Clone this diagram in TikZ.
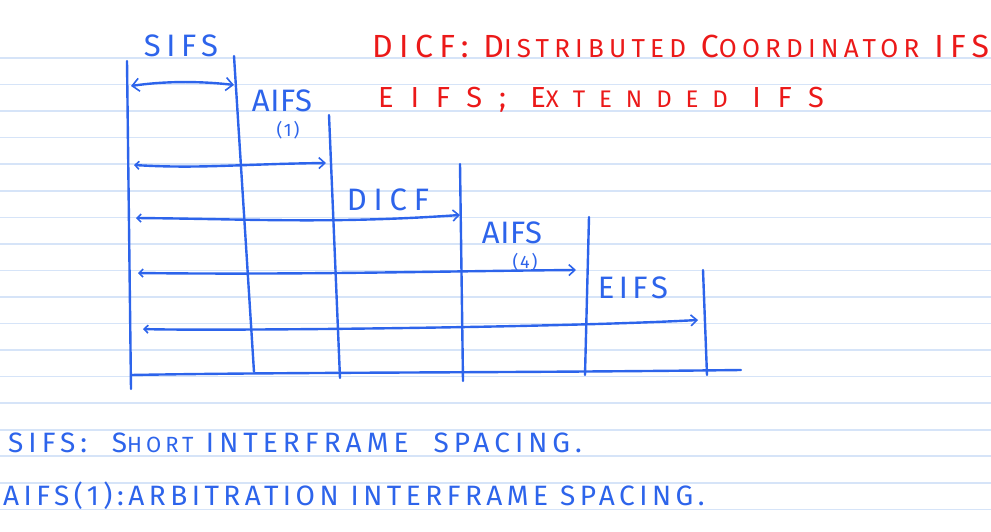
\documentclass[tikz,border=0pt]{standalone}
\usepackage{fontspec}
\newfontfamily\handfont{Fira Sans}
\usetikzlibrary{arrows.meta}
\definecolor{ink}{RGB}{45,100,235}
\definecolor{redink}{RGB}{235,25,25}
\definecolor{ruled}{RGB}{214,228,248}
\def\lowsz{20}
\newcommand\lowcap[1]{{\fontsize{\lowsz}{\lowsz}\selectfont #1}}
\newcommand\handsize[3]{\def\lowsz{#2}\handfont\addfontfeatures{LetterSpace=#3}\fontsize{#1}{#1}\selectfont}
\tikzset{
  ruleline/.style={ruled, line width=1.6pt},
  penline/.style={ink, line width=2.4pt, line cap=round},
  bothtip/.style={{Straight Barb[length=7pt,width=13pt,line width=1.6pt]}-{Straight Barb[length=7pt,width=13pt,line width=1.6pt]}},
  marktip/.style={{Straight Barb[length=4pt,width=8pt,line width=1.6pt]}-{Straight Barb[length=6pt,width=11pt,line width=1.6pt]}},
  label/.style={font=\handsize{31}{22}{18}, text=ink, inner sep=0pt},
  sublabel/.style={font=\handsize{18}{14}{10}, text=ink, inner sep=0pt},
  redtext/.style={text=redink, inner sep=0pt, anchor=west},
  notetext/.style={text=ink, inner sep=0pt, anchor=west},
}
\begin{document}
\begin{tikzpicture}[x=1pt, y=-1pt]
  \useasboundingbox (0,0) rectangle (991,532);

  % Ruled paper
  \foreach \k in {0,...,17}
    \draw [ruleline] (0, {58+26.55*\k}) -- (991, {58+26.55*\k});

  % Boundaries of the interframe spaces
  \coordinate (t0) at (127,61);  \coordinate (b0) at (131,389);
  \coordinate (t1) at (234,56);  \coordinate (b1) at (254,372);
  \coordinate (t2) at (329,115); \coordinate (b2) at (340,378);
  \coordinate (t3) at (460,164); \coordinate (b3) at (463,381);
  \coordinate (t4) at (589,217); \coordinate (b4) at (585,375);
  \coordinate (t5) at (703,270); \coordinate (b5) at (707,375);
  \foreach \i in {0,...,5}
    \draw [penline] (t\i) -- (b\i);

  % Time axis
  \coordinate (axisL) at (131,375);
  \coordinate (axisR) at (741,370);
  \draw [penline] (axisL) .. controls (300,372) and (500,373) .. (axisR);

  % Interval arrows
  \coordinate (sifsL) at (131,86);  \coordinate (sifsR) at (234,85);
  \coordinate (aifsL) at (134,165); \coordinate (aifsR) at (326,163);
  \coordinate (dicfL) at (136,218); \coordinate (dicfR) at (460,215);
  \coordinate (aiffL) at (138,273); \coordinate (aiffR) at (576,270);
  \coordinate (eifsL) at (143,329); \coordinate (eifsR) at (698,320);
  \draw [penline, bothtip] (sifsL) .. controls (165,81) and (200,81) .. (sifsR);
  \draw [penline, marktip] (aifsL) .. controls (200,169) and (240,164) .. (aifsR);
  \draw [penline, marktip] (dicfL) .. controls (250,219) and (330,224) .. (dicfR);
  \draw [penline, marktip] (aiffL) .. controls (300,275) and (450,271) .. (aiffR);
  \draw [penline, marktip] (eifsL) .. controls (200,331) and (550,328) .. (eifsR);

  % Interval names
  \node [label] (sifs) at (181,46) {SIFS};
  \node [label, font=\handsize{31}{22}{2}] (aifs1) at (282,101) {AIFS};
  \node [sublabel] (aifs1n) at (288,130) {(1)};
  \node [label, font=\handsize{31}{22}{22}] (dicf) at (388,200) {DICF};
  \node [label, font=\handsize{31}{22}{2}] (aifs4) at (512,233) {AIFS};
  \node [sublabel] (aifs4n) at (525,262) {(4)};
  \node [label, font=\handsize{31}{22}{14}] (eifs) at (633,288) {EIFS};

  % Red notes
  \node [redtext, font=\handsize{32}{26}{20}] (dicfnote) at (372,46)
    {DICF:\ D\lowcap{ISTRIBUTED} C\lowcap{OORDINATOR} IFS};
  \node [redtext, font=\handsize{29}{24}{58}] (eifsnote) at (378,100)
    {EIFS;\ E\lowcap{XTENDED} IFS};

  % Blue notes
  \node [notetext, font=\handsize{28}{22}{18}] (sifsnote) at (8,443)
    {SIFS:\ \ S\lowcap{HORT} INTERFRAME\ \ SPACING.};
  \node [notetext, font=\handsize{28}{22}{16}] (aifsnote) at (3,496)
    {AIFS(1):ARBITRATION INTERFRAME SPACING.};
\end{tikzpicture}
\end{document}
